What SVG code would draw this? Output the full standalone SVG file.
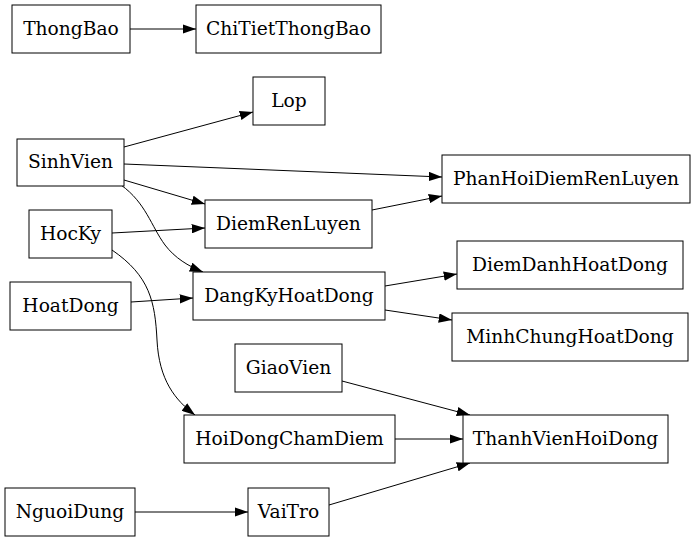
<svg xmlns="http://www.w3.org/2000/svg" width="696" height="541" viewBox="0 0 696 541">
<defs>
<marker id="ah" markerUnits="userSpaceOnUse" markerWidth="13.5" markerHeight="9.4" refX="13.3" refY="4.7" orient="auto">
<path d="M0,0 L13.3,4.7 L0,9.4 z" fill="#000"/>
</marker>
<style>
.n rect{fill:#fff;stroke:#000;stroke-width:1}
.n text{font-family:'DejaVu Serif',serif;font-size:18.67px;fill:#000;text-anchor:middle}
#edges path{fill:none;stroke:#000;stroke-width:1;marker-end:url(#ah)}
</style>
</defs>
<rect width="696" height="541" fill="#fff"/>
<g id="edges">
<path d="M130,29 L196,29"/>
<path d="M124,147 L253,112"/>
<path d="M124,164 L442,177"/>
<path d="M124,180 L205,204"/>
<path d="M121,185 C146,203 151,226 165,245 C175,258 188,266 203,272"/>
<path d="M372,210 L442,196"/>
<path d="M112,233 L205,228"/>
<path d="M112,250 C150,276 155,302 157,340 C159,380 175,400 195,415"/>
<path d="M131,302 L193,298"/>
<path d="M385,286 L457,274"/>
<path d="M385,310 L452,320"/>
<path d="M342,381 L470,415"/>
<path d="M395,439 L463,439"/>
<path d="M135,512 L248,512"/>
<path d="M329,505 L470,463"/>
</g>
<g font-family="DejaVu Serif, serif" font-size="18.67">
<g id="ThongBao" class="n"><rect x="12" y="5" width="118" height="48"/><text x="71" y="34.5">ThongBao</text></g>
<g id="ChiTietThongBao" class="n"><rect x="196" y="5" width="185" height="48"/><text x="288.5" y="34.5">ChiTietThongBao</text></g>
<g id="Lop" class="n"><rect x="253" y="77" width="72" height="48"/><text x="289" y="106.5">Lop</text></g>
<g id="SinhVien" class="n"><rect x="17" y="139" width="107" height="47"/><text x="70.5" y="168">SinhVien</text></g>
<g id="PhanHoiDiemRenLuyen" class="n"><rect x="442" y="155" width="248" height="48"/><text x="566" y="184.5">PhanHoiDiemRenLuyen</text></g>
<g id="DiemRenLuyen" class="n"><rect x="205" y="200" width="167" height="48"/><text x="288.5" y="229.5">DiemRenLuyen</text></g>
<g id="HocKy" class="n"><rect x="29" y="210" width="83" height="48"/><text x="70.5" y="239.5">HocKy</text></g>
<g id="DangKyHoatDong" class="n"><rect x="193" y="272" width="192" height="48"/><text x="289" y="301.5">DangKyHoatDong</text></g>
<g id="DiemDanhHoatDong" class="n"><rect x="457" y="241" width="226" height="48"/><text x="570" y="270.5">DiemDanhHoatDong</text></g>
<g id="HoatDong" class="n"><rect x="10" y="282" width="121" height="48"/><text x="70.5" y="311.5">HoatDong</text></g>
<g id="MinhChungHoatDong" class="n"><rect x="452" y="313" width="236" height="48"/><text x="570" y="342.5">MinhChungHoatDong</text></g>
<g id="GiaoVien" class="n"><rect x="235" y="344" width="107" height="48"/><text x="288.5" y="373.5">GiaoVien</text></g>
<g id="HoiDongChamDiem" class="n"><rect x="184" y="415" width="211" height="48"/><text x="289.5" y="444.5">HoiDongChamDiem</text></g>
<g id="ThanhVienHoiDong" class="n"><rect x="463" y="415" width="205" height="48"/><text x="565.5" y="444.5">ThanhVienHoiDong</text></g>
<g id="NguoiDung" class="n"><rect x="5" y="488" width="130" height="48"/><text x="70" y="517.5">NguoiDung</text></g>
<g id="VaiTro" class="n"><rect x="248" y="488" width="81" height="48"/><text x="288.5" y="517.5">VaiTro</text></g>
</g>
</svg>
